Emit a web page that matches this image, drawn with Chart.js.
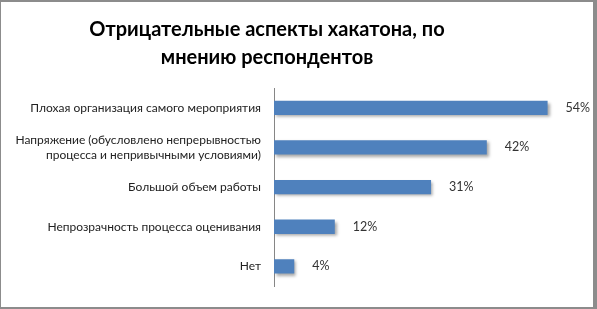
<!DOCTYPE html>
<html>
<head>
<meta charset="utf-8">
<script src="https://cdn.jsdelivr.net/npm/chart.js@4"></script>
<style>
  html, body { margin: 0; padding: 0; background: #fff; }
  #frame {
    width: 592px; height: 305px;
    border-top: 2px solid #8c8c8c; border-left: 1px solid #8c8c8c;
    border-right: 4px solid #8c8c8c; border-bottom: 2px solid #8c8c8c;
    position: relative;
  }
</style>
</head>
<body>
<div id="frame"><canvas id="myChart" width="592" height="305"></canvas></div>
<script>
// данные диаграммы
const categories = [
  "Плохая организация самого мероприятия",
  ["Напряжение (обусловлено непрерывностью", "процесса и непривычными условиями)"],
  "Большой объем работы",
  "Непрозрачность процесса оценивания",
  "Нет",
];
const values = [54, 42, 31, 12, 4];
const valueLabels = ["54%", "42%", "31%", "12%", "4%"];
const titleLines = ["Отрицательные аспекты хакатона, по", "мнению респондентов"];

(() => {
  "use strict";

  // заголовок (смещён влево, как в оригинале)
  const chartTitle = {
    id: "chartTitle",
    afterDraw(chart) {
      const { ctx } = chart;
      ctx.save();
      ctx.font = "bold 20px Lato";
      ctx.fillStyle = "#000";
      ctx.textAlign = "center";
      ctx.textBaseline = "middle";
      titleLines.forEach((line, i) => {
        ctx.fillText(line, 266, 28 + i * 28);
      });
      ctx.restore();
    },
  };

  // подписи значений справа от столбцов
  const barLabels = {
    id: "barLabels",
    afterDatasetsDraw(chart) {
      const { ctx } = chart;
      const meta = chart.getDatasetMeta(0);
      ctx.save();
      ctx.font = "12.5px Lato";
      ctx.fillStyle = "#333";
      ctx.textBaseline = "middle";
      meta.data.forEach((bar, i) => {
        ctx.fillText(valueLabels[i], bar.x + 18, bar.y);
      });
      ctx.restore();
    },
  };

  // тень у столбцов
  const barShadow = {
    id: "barShadow",
    beforeDatasetDraw(chart) {
      const { ctx } = chart;
      ctx.save();
      ctx.shadowColor = "rgba(0,0,0,0.35)";
      ctx.shadowOffsetX = 2;
      ctx.shadowOffsetY = 2;
      ctx.shadowBlur = 3;
    },
    afterDatasetDraw(chart) {
      chart.ctx.restore();
    },
  };

  const ctx = document.getElementById("myChart");
  // eslint-disable-next-line no-unused-vars
  const myChart = new Chart(ctx, {
    type: "bar",
    data: {
      labels: categories,
      datasets: [
        {
          data: values,
          backgroundColor: "#4f81bd",
          borderWidth: 0,
          barPercentage: 0.36,
          categoryPercentage: 1,
        },
      ],
    },
    options: {
      indexAxis: "y",
      responsive: false,
      animation: false,
      layout: { padding: { left: 0, right: 15, top: 86, bottom: 11 } },
      plugins: {
        legend: { display: false },
        tooltip: { enabled: false },
        title: { display: false },
      },
      scales: {
        x: { display: false, min: 0, max: 60 },
        y: {
          afterFit(axis) { axis.width = 273; },
          grid: { display: false, drawTicks: false },
          border: { display: true, color: "#868686", width: 1 },
          ticks: {
            color: "#222",
            padding: 13,
            font: { family: "Lato", size: 12, lineHeight: 1.3 },
          },
        },
      },
    },
    plugins: [barShadow, barLabels, chartTitle],
  });
})();
</script>
</body>
</html>
